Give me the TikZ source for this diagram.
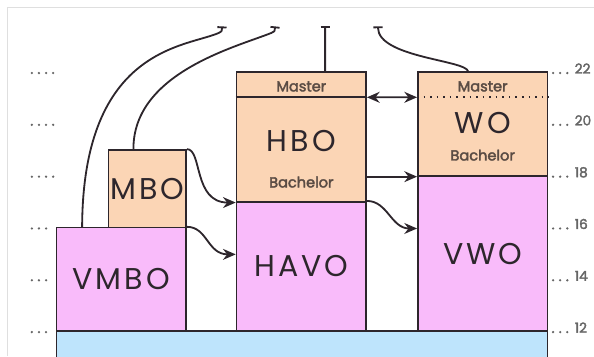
\documentclass[tikz,border=0pt]{standalone}
\usepackage{fontspec}
\setmainfont{Poppins}
\newfontfamily\widefont[LetterSpace=10]{Poppins}
\newfontfamily\smallfont[FakeBold=2.5]{Poppins}
\usetikzlibrary{arrows.meta,calc}

\definecolor{peach}{RGB}{251,213,181}
\definecolor{lilac}{RGB}{249,187,250}
\definecolor{skyband}{RGB}{190,228,252}
\definecolor{boxline}{RGB}{45,38,44}
\definecolor{txtgray}{RGB}{90,76,68}

\begin{document}
\begin{tikzpicture}[
  box/.style={draw=boxline, line width=1.8pt, inner sep=0pt, anchor=south west,
    minimum width=5cm, font=\widefont\fontsize{33}{33}\selectfont, text=boxline},
  bigtext/.style={font=\widefont\fontsize{33}{33}\selectfont, text=boxline, inner sep=0pt},
  smalltext/.style={font=\smallfont\fontsize{16}{16}\selectfont, text=txtgray, inner sep=0pt},
  leader/.style={line width=2.8pt, line cap=round, dash pattern=on 0pt off 7.8pt, draw=gray!80!black},
  agelabel/.style={font=\smallfont\fontsize{15}{15}\selectfont, text=gray!80!black, inner sep=0pt, anchor=base west},
  route/.style={draw=boxline, line width=2pt},
  >={Stealth[length=14pt,width=12pt]}
]
\useasboundingbox (0,11.07) rectangle (22.93,24.82);
\clip (0,11.07) rectangle (22.93,24.82);

% frame of the screenshot
\draw[gray!25, line width=1pt] (0.27,11.07) -- (0.27,24.55) -- (22.93,24.55);

% ages
\foreach \yr in {12,14,16}
  \draw[leader] (1.23,\yr) -- (1.85,\yr);
\foreach \yr in {18,20,22}
  \draw[leader] (1.23,\yr) -- (2.08,\yr);
\foreach \yr in {12,14,...,22}{
  \draw[leader] (21.35,\yr) -- (21.9,\yr);
  \node[agelabel] (age\yr) at (22.18,\yr-0.02) {\yr};
}

% school types
\node[box, fill=skyband, minimum width=18.95cm, minimum height=1.5cm] (base) at (2.15,10.5) {};
\node[box, fill=lilac, minimum height=4cm] (vmbo) at (2.15,12) {VMBO};
\node[box, fill=peach, minimum width=3cm, minimum height=3cm] (mbo) at (4.15,16) {MBO};
\node[box, fill=lilac, minimum height=5cm] (havo) at (9.1,12) {HAVO};
\node[box, fill=peach, minimum height=5cm] (hbo) at (9.1,17) {};
\node[box, fill=lilac, minimum height=6cm] (vwo) at (16.1,12) {VWO};
\node[box, fill=peach, minimum height=4cm] (wo) at (16.1,18) {};

\coordinate (hbomid) at ([yshift=-1cm]hbo.north east);
\coordinate (womid) at ([yshift=-1cm]wo.north west);
\draw[route, line width=1.8pt] ([yshift=-1cm]hbo.north west) -- (hbomid);
\draw[boxline, line width=1.8pt, dash pattern=on 1.8pt off 5.4pt] (womid) -- ([yshift=-1cm]wo.north east);

\node[smalltext] (hbomaster) at ([yshift=-0.58cm]hbo.north) {Master};
\node[bigtext] (hbolabel) at ([yshift=-2.7cm]hbo.north) {HBO};
\node[smalltext] (hbobachelor) at ([yshift=0.79cm]hbo.south) {Bachelor};
\node[smalltext] (womaster) at ([yshift=-0.58cm]wo.north) {Master};
\node[bigtext] (wolabel) at ([yshift=-2cm]wo.north) {WO};
\node[smalltext] (wobachelor) at ([yshift=0.83cm]wo.south) {Bachelor};

% routes between the schools
\draw[route,->] (mbo.north east) .. controls +(0.6,0) and +(-1.65,0) .. (hbo.south west);
\draw[route,->] (vmbo.north east) .. controls +(0.8,0) and +(-1.1,0) .. ([yshift=3cm]havo.south west);
\draw[route,->] (havo.north east) .. controls +(0.8,0) and +(-1.0,0) .. ([yshift=4cm]vwo.south west);
\draw[route,->] ([yshift=1cm]hbo.south east) -- (wo.south west);
\draw[route,<->] (hbomid) -- (womid);

% ways out at the top
\coordinate (outA) at (8.57,23.8);
\coordinate (outB) at (10.62,23.8);
\coordinate (outC) at (12.55,23.8);
\coordinate (outD) at (14.59,23.8);
\draw[route,-{Bar[width=10pt]}] ([xshift=1.02cm]vmbo.north west) .. controls (3.2,23) and (7.2,23.0) .. (8.45,23.55) .. controls (8.56,23.6) .. (outA);
\draw[route,-{Bar[width=10pt]}] ([xshift=1cm]mbo.north west) .. controls (5.14,22) and (9.1,23.0) .. (10.48,23.55) .. controls (10.6,23.6) .. (outB);
\draw[route,-{Bar[width=10pt]}] ([xshift=3.45cm]hbo.north west) -- (outC);
\draw[route,-{Bar[width=10pt]}] ([xshift=1.97cm]wo.north west) .. controls (18.0,22.5) and (14.6,22.6) .. (outD);

\end{tikzpicture}
\end{document}
